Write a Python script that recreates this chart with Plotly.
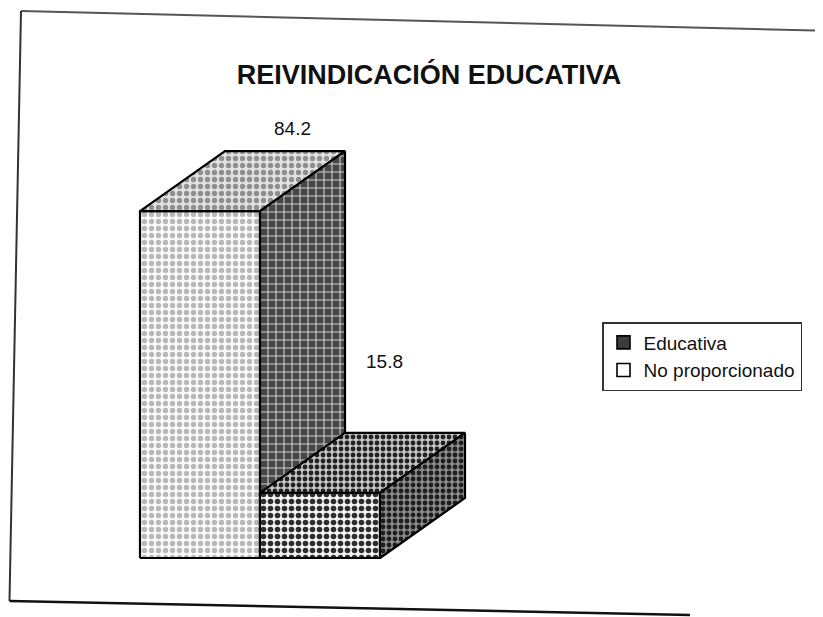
import plotly.graph_objects as go

# ---- data ----
categories = ["Educativa", "No proporcionado"]
values = [84.2, 15.8]
value_labels = ["84.2", "15.8"]
title_text = "REIVINDICACIÓN EDUCATIVA"

# ---- geometry / style (not data) ----
W, H = 823, 617
OFF = 8           # page body margin in the browser
PX_X = 120.0      # pixels per category unit
PX_Y = 4.12       # pixels per value unit
X0_PX = 200.0 - OFF   # pixel of first bar centre
BASE_PX = 558.0 - OFF  # pixel of value 0
bar_w = 1.0
depth_dx = 85 / PX_X
depth_dy = 60 / PX_Y
label_shift = [(7, 23), (-21, 71)]  # pixel offsets of value labels

x_range = [-X0_PX / PX_X, (W - X0_PX) / PX_X]
y_range = [-(H - BASE_PX) / PX_Y, BASE_PX / PX_Y]

face_styles = [
    {  # tall bar
        "front": dict(shape=".", bgcolor="#fbfbfb", fgcolor="#b8b8b8", size=7, solidity=0.45),
        "top": dict(shape=".", bgcolor="#e2e2e2", fgcolor="#8f8f8f", size=7, solidity=0.45),
        "side": dict(shape="+", bgcolor="#474747", fgcolor="#d0d0d0", size=8, solidity=0.25),
    },
    {  # short bar
        "front": dict(shape=".", bgcolor="#f4f4f4", fgcolor="#2e2e2e", size=7, solidity=0.5),
        "top": dict(shape=".", bgcolor="#c4c4c4", fgcolor="#222222", size=6, solidity=0.5),
        "side": dict(shape=".", bgcolor="#8a8a8a", fgcolor="#1e1e1e", size=6, solidity=0.5),
    },
]
legend_colors = ["#3c3c3c", "#ffffff"]

fig = go.Figure()

for i, v in enumerate(values):
    xc = i * bar_w
    xl, xr = xc - bar_w / 2, xc + bar_w / 2
    dx, dy = depth_dx, depth_dy
    faces = {
        "front": ([xl, xr, xr, xl, xl], [0, 0, v, v, 0]),
        "top": ([xl, xr, xr + dx, xl + dx, xl], [v, v, v + dy, v + dy, v]),
        "side": ([xr, xr + dx, xr + dx, xr, xr], [0, dy, v + dy, v, 0]),
    }
    for fname in ["front", "top", "side"]:
        fx, fy = faces[fname]
        st = face_styles[i][fname]
        fig.add_trace(go.Scatter(
            x=fx, y=fy, mode="lines", fill="toself",
            fillcolor=st["bgcolor"],
            fillpattern=dict(shape=st["shape"], bgcolor=st["bgcolor"], fgcolor=st["fgcolor"],
                             size=st["size"], solidity=st["solidity"], fillmode="replace"),
            line=dict(color="black", width=2.2),
            showlegend=False, hoverinfo="skip",
        ))
    sx, sy = label_shift[i]
    fig.add_annotation(
        x=xc + depth_dx, y=v + depth_dy, text=value_labels[i],
        showarrow=False, xshift=sx, yshift=sy,
        font=dict(family="Liberation Sans, Arial", size=19, color="#111111"),
    )

# legend entries
for name, col in zip(categories, legend_colors):
    fig.add_trace(go.Scatter(
        x=[None], y=[None], mode="markers", name=name,
        marker=dict(symbol="square", size=13, color=col, line=dict(color="black", width=1.6)),
    ))

def px(x, y):
    return (x - OFF) / W, 1 - (y - OFF) / H

# scanned page frame
frame = [((21, 11), (835, 31), "#555555", 2), ((21, 11), (9.5, 601), "#333333", 2),
         ((9.5, 601), (690, 615), "#111111", 2.5)]
for (a, b, c, w) in frame:
    x0, y0 = px(*a)
    x1, y1 = px(*b)
    fig.add_shape(type="line", xref="paper", yref="paper", x0=x0, y0=y0, x1=x1, y1=y1,
                  line=dict(color=c, width=w))

fig.update_layout(
    width=W, height=H,
    margin=dict(l=0, r=0, t=0, b=0),
    paper_bgcolor="white", plot_bgcolor="white",
    title=dict(text="<b>" + title_text + "</b>", x=(429 - OFF) / W, xanchor="center",
               y=1 - (75 - OFF) / H, yanchor="middle", yref="container",
               font=dict(family="Liberation Sans, Arial", size=27, color="#111111")),
    xaxis=dict(range=x_range, visible=False, fixedrange=True),
    yaxis=dict(range=y_range, visible=False, fixedrange=True),
    legend=dict(x=(602 - OFF) / W, y=1 - (322 - OFF) / H, xanchor="left", yanchor="top",
                bordercolor="#333333", borderwidth=1.5, bgcolor="white",
                font=dict(family="Liberation Sans, Arial", size=19, color="#111111"),
                itemwidth=30),
    showlegend=True,
)

fig.write_html("out.html")
